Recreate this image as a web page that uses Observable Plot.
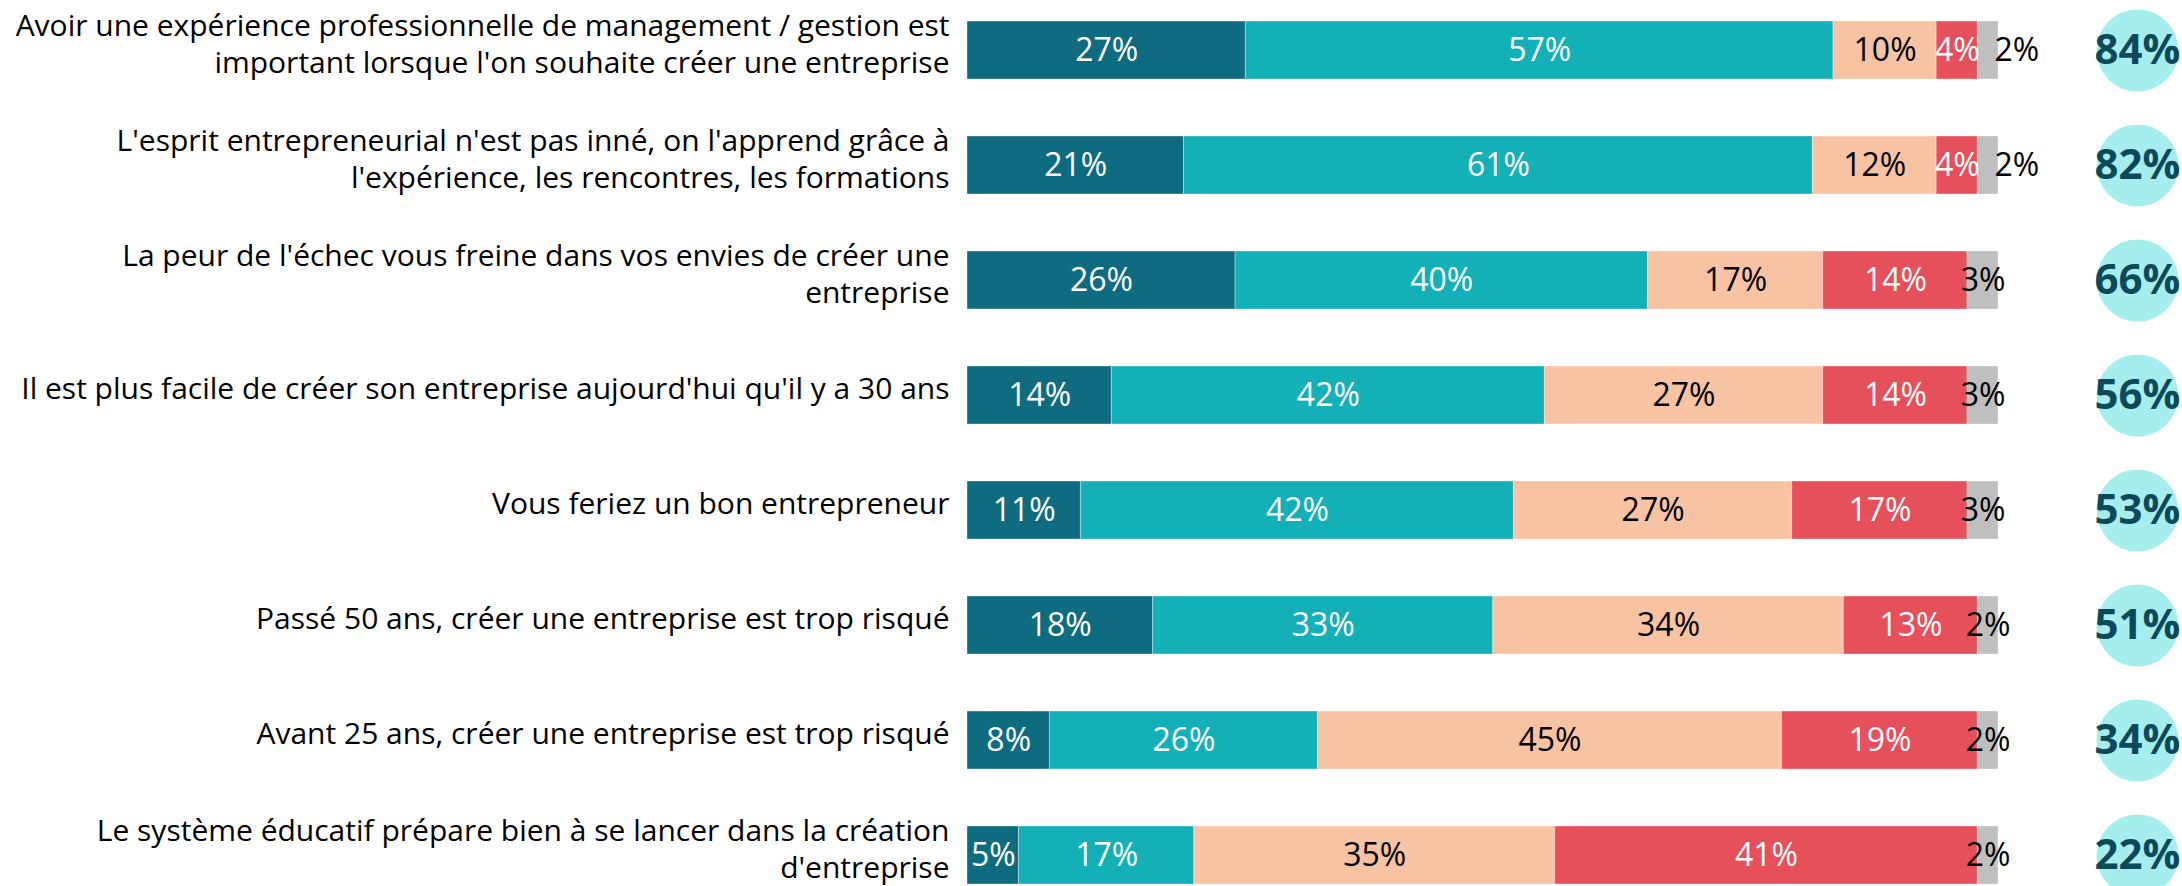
<!DOCTYPE html>
<html>
<head>
<meta charset="utf-8">
<script src="https://cdn.jsdelivr.net/npm/d3@7"></script>
<script src="https://cdn.jsdelivr.net/npm/@observablehq/plot@0.6"></script>
<style>
  html, body { margin: 0; padding: 0; background: #ffffff; }
  #chart svg { display: block; }
</style>
</head>
<body>
<div id="chart"></div>
<script>
// ---- Data ----
const categories = [
  "Avoir une expérience professionnelle de management / gestion est\nimportant lorsque l'on souhaite créer une entreprise",
  "L'esprit entrepreneurial n'est pas inné, on l'apprend grâce à\nl'expérience, les rencontres, les formations",
  "La peur de l'échec vous freine dans vos envies de créer une\nentreprise",
  "Il est plus facile de créer son entreprise aujourd'hui qu'il y a 30 ans",
  "Vous feriez un bon entrepreneur",
  "Passé 50 ans, créer une entreprise est trop risqué",
  "Avant 25 ans, créer une entreprise est trop risqué",
  "Le système éducatif prépare bien à se lancer dans la création\nd'entreprise"
];
const seriesNames = ["Tout à fait d'accord", "Plutôt d'accord", "Plutôt pas d'accord", "Pas du tout d'accord", "Ne se prononce pas"];
const toutAFait   = [27, 21, 26, 14, 11, 18,  8,  5];
const plutot      = [57, 61, 40, 42, 42, 33, 26, 17];
const plutotPas   = [10, 12, 17, 27, 27, 34, 45, 35];
const pasDuTout   = [ 4,  4, 14, 14, 17, 13, 19, 41];
const nsp         = [ 2,  2,  3,  3,  3,  2,  2,  2];
const totalAccord = [84, 82, 66, 56, 53, 51, 34, 22];

const seriesColors = ["#0f6b80", "#14b0b8", "#f7c3a3", "#e6505a", "#bfbfbf"];
const labelColors  = ["#ffffff", "#ffffff", "#000000", "#ffffff", "#000000"];

// ---- Build table (stacked start/end computed from the values) ----
const seriesValues = [toutAFait, plutot, plutotPas, pasDuTout, nsp];
const table = [];
categories.forEach((cat, i) => {
  let acc = 0;
  seriesValues.forEach((vals, j) => {
    const v = vals[i];
    table.push({
      cat, serie: seriesNames[j], si: j, value: v,
      start: acc, end: acc + v, mid: acc + v / 2,
      prev: j > 0 ? seriesValues[j - 1][i] : null
    });
    acc += v;
  });
});
const totals = categories.map((cat, i) => ({cat, total: totalAccord[i]}));

const FONT = "'Open Sans', 'Noto Sans', sans-serif";
const SEG_FS = 32;

const chart = Plot.plot({
  width: 2182,
  height: 886,
  marginLeft: 967,
  marginRight: 184,
  marginTop: 18,
  marginBottom: 0,
  style: {fontFamily: FONT, background: "#ffffff"},
  x: {domain: [0, 100], axis: null},
  y: {domain: categories, paddingInner: 0.5, paddingOuter: 0, axis: null},
  color: {domain: seriesNames, range: seriesColors},
  marks: [
    Plot.barX(table, {
      x1: "start", x2: "end", y: "cat", fill: "serie",
      stroke: "#ffffff", strokeOpacity: 0.35, strokeWidth: 1
    }),
    // labels inside segments (white)
    Plot.text(table.filter(d => labelColors[d.si] === "#ffffff"), {
      x: "mid", y: "cat", text: d => d.value + "%",
      fill: "#ffffff", fontSize: SEG_FS
    }),
    // labels inside segments (black)
    Plot.text(table.filter(d => d.si === 2), {
      x: "mid", y: "cat", text: d => d.value + "%",
      fill: "#000000", fontSize: SEG_FS
    }),
    // "ne se prononce pas" labels: centred, or pushed after the bar when the previous segment is narrow
    Plot.text(table.filter(d => d.si === 4 && d.prev >= 5), {
      x: "mid", y: "cat", text: d => d.value + "%",
      fill: "#000000", fontSize: SEG_FS
    }),
    Plot.text(table.filter(d => d.si === 4 && d.prev < 5), {
      x: "end", y: "cat", text: d => d.value + "%",
      fill: "#000000", fontSize: SEG_FS, textAnchor: "start", dx: -4
    }),
    // category labels
    Plot.text(categories, {
      y: d => d, text: d => d, frameAnchor: "left", textAnchor: "end",
      dx: -18, dy: -8, fontSize: 30, lineHeight: 1.22, fill: "#000000"
    }),
    // total circles
    Plot.dot(totals, {
      y: "cat", r: 41, fill: "#a6eeee", stroke: null,
      frameAnchor: "right", dx: 139
    }),
    Plot.text(totals, {
      y: "cat", text: d => d.total + "%", frameAnchor: "right", dx: 139,
      textAnchor: "middle",
      fill: "#0c4a5a", fontSize: 42, fontWeight: "bold"
    })
  ]
});
document.getElementById("chart").appendChild(chart);
</script>
</body>
</html>
